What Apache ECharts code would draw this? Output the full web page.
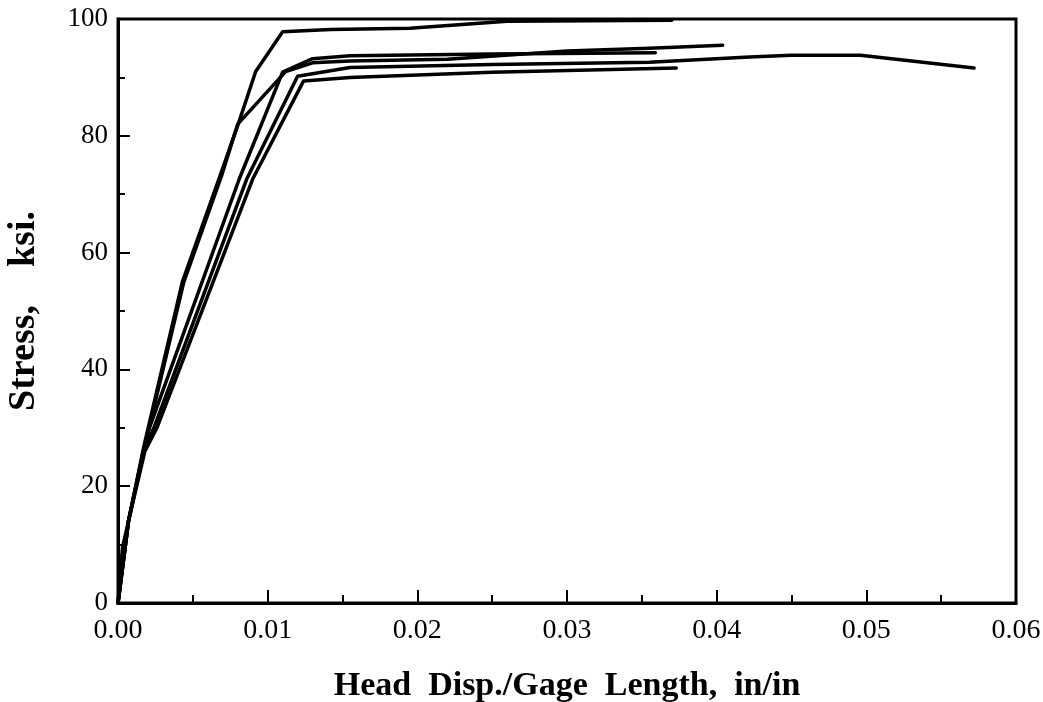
<!DOCTYPE html>
<html>
<head>
<meta charset="utf-8">
<script src="https://cdn.jsdelivr.net/npm/echarts@6/dist/echarts.min.js"></script>
<style>
  html, body { margin: 0; padding: 0; background: #fff; }
  #chart { width: 1043px; height: 702px; }
</style>
</head>
<body>
<div id="chart"></div>
<script>
// stress-strain curves: [strain in/in, stress ksi]
var curveA = [[0, 0], [0.0007, 14], [0.0017, 26.5], [0.0043, 55], [0.0068, 73], [0.0081, 82.5], [0.0092, 91], [0.011, 97.8], [0.0142, 98.2], [0.0195, 98.4], [0.026, 99.6], [0.037, 99.8]];
var curveB = [[0, 0], [0.0007, 14], [0.0018, 27], [0.0044, 55], [0.0069, 73], [0.008, 82], [0.0112, 91], [0.013, 92.5], [0.0155, 92.8], [0.022, 93.1], [0.03, 94.5], [0.0355, 95.0], [0.0404, 95.5]];
var curveC = [[0, 0], [0.0007, 14], [0.0017, 26], [0.0021, 30], [0.0081, 72.6], [0.011, 90.9], [0.013, 93.2], [0.0155, 93.7], [0.025, 94.0], [0.0359, 94.2]];
var curveD = [[0, 0], [0.0003, 9.5], [0.0007, 14], [0.0018, 26], [0.0026, 30], [0.009, 72.6], [0.0124, 89.4], [0.0155, 90.0], [0.025, 90.9], [0.0373, 91.6]];
var curveE = [[0, 0], [0.0007, 14], [0.0017, 26], [0.0024, 30], [0.0086, 72.6], [0.012, 90.2], [0.0155, 91.7], [0.025, 92.2], [0.0355, 92.6], [0.0422, 93.5], [0.045, 93.8], [0.0496, 93.8], [0.0572, 91.6]];
var curves = [curveA, curveB, curveC, curveD, curveE];

var chart = echarts.init(document.getElementById('chart'));
var serif = 'Liberation Serif';

var option = {
    backgroundColor: '#fff',
    animation: false,
    grid: {
        left: 118, right: 27, top: 19, bottom: 99,
        outerBoundsMode: 'none',
        show: true, borderColor: '#000', borderWidth: 3, backgroundColor: 'transparent'
    },
    xAxis: {
        type: 'value',
        min: 0, max: 0.06, interval: 0.01,
        name: 'Head  Disp./Gage  Length,  in/in',
        nameLocation: 'middle',
        nameGap: 66,
        nameTextStyle: { fontFamily: serif, fontWeight: 'bold', fontSize: 34, color: '#000' },
        axisLine: { lineStyle: { color: '#000', width: 3 } },
        axisTick: { inside: true, length: 13, lineStyle: { color: '#000', width: 2 } },
        minorTick: { show: true, splitNumber: 2, length: 8, lineStyle: { color: '#000', width: 2 } },
        splitLine: { show: false },
        axisLabel: {
            fontFamily: serif, fontSize: 28, color: '#000', margin: 14,
            formatter: function (v) { return v.toFixed(2); }
        }
    },
    yAxis: {
        type: 'value',
        min: 0, max: 100, interval: 20,
        name: 'Stress,    ksi.',
        nameLocation: 'middle',
        nameGap: 75,
        nameTextStyle: { fontFamily: serif, fontWeight: 'bold', fontSize: 38, color: '#000' },
        axisLine: { lineStyle: { color: '#000', width: 3 } },
        axisTick: { inside: true, length: 12, lineStyle: { color: '#000', width: 2 } },
        minorTick: { show: true, splitNumber: 2, length: 7, lineStyle: { color: '#000', width: 2 } },
        splitLine: { show: false },
        axisLabel: { fontFamily: serif, fontSize: 27, color: '#000', margin: 10 }
    },
    series: curves.map(function (c) {
        return {
            type: 'line',
            data: c,
            showSymbol: false,
            symbol: 'none',
            lineStyle: { color: '#000', width: 3.5, join: 'round', cap: 'round' }
        };
    })
};
chart.setOption(option);
</script>
</body>
</html>
